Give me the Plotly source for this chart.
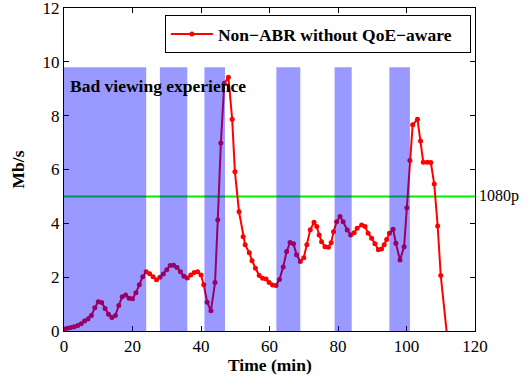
import plotly.graph_objects as go

# ---- data ----
time_min = [0, 1, 2, 3, 4, 5, 6, 7, 8, 9, 10, 11, 12, 13, 14, 15, 16, 17, 18, 19, 20,
            21, 22, 23, 24, 25, 26, 27, 28, 29, 30, 31, 32, 33, 34, 35, 36, 37, 38, 39, 40,
            40.8, 41.8, 42.9, 44.1, 44.9, 45.8, 46.8, 48.0, 49.1, 49.9, 51.1, 52.3, 52.9,
            54.1, 54.9, 55.9, 57.0, 58.0, 59.0, 59.9, 60.9, 61.9, 62.9, 64.0, 65.0, 66.0,
            67.0, 67.9, 69.0, 70.0, 70.9, 71.9, 73.0, 73.8, 74.5, 75.2, 76.2, 77.2, 78.0,
            78.7, 79.6, 80.6, 81.5, 82.7, 83.7, 84.7, 85.6, 86.9, 87.9, 88.8, 89.8, 90.8,
            91.8, 92.7, 93.5, 94.2, 95.0, 96.1, 96.9, 98.1, 99.3, 100.1, 101.0, 101.8,
            103.2, 104.1, 104.9, 106.1, 107.1, 108.1, 109.1, 110.0, 112.0]
rate_mbps = [0.07, 0.10, 0.13, 0.16, 0.20, 0.27, 0.37, 0.45, 0.58, 0.86, 1.09, 1.06, 0.84,
             0.62, 0.50, 0.58, 0.95, 1.27, 1.34, 1.22, 1.20, 1.42, 1.72, 2.02, 2.20, 2.13,
             2.02, 1.90, 2.00, 2.12, 2.28, 2.43, 2.44, 2.36, 2.20, 2.03, 1.97, 2.08, 2.17,
             2.20, 2.08, 1.72, 1.07, 0.75, 1.80, 4.13, 6.98, 9.20, 9.43, 7.87, 5.92, 4.43,
             3.50, 3.20, 2.91, 2.61, 2.33, 2.06, 1.96, 1.93, 1.80, 1.71, 1.69, 1.91, 2.38,
             2.95, 3.29, 3.24, 2.83, 2.58, 2.72, 3.20, 3.76, 4.04, 3.88, 3.57, 3.32, 3.13,
             3.11, 3.28, 3.69, 4.06, 4.25, 4.06, 3.75, 3.57, 3.65, 3.82, 3.94, 3.88, 3.63,
             3.45, 3.24, 3.02, 3.05, 3.20, 3.40, 3.63, 3.78, 3.26, 2.64, 3.13, 4.58, 6.33,
             7.66, 7.87, 7.06, 6.27, 6.27, 6.26, 5.46, 3.90, 2.06, -0.36]

# bad viewing experience periods (start, end) in minutes
bad_start = [0, 28, 41, 62, 79, 95]
bad_end = [24, 36, 47, 69, 84, 101]
bad_top = 9.8

threshold_1080p = 5
x_ticks = [0, 20, 40, 60, 80, 100, 120]
y_ticks = [0, 2, 4, 6, 8, 10, 12]

FONT = "Liberation Serif, Times New Roman, serif"
BOLD_SIZE = 17.5

fig = go.Figure()

fig.add_trace(go.Scatter(
    x=time_min, y=rate_mbps, mode="lines+markers",
    name="<b>Non\u2212ABR without QoE\u2212aware</b>\u00a0\u00a0\u00a0",
    line=dict(color="#ff0000", width=2),
    marker=dict(color="#ff0000", size=5),
))

fig.add_hline(y=threshold_1080p, line=dict(color="#00ee00", width=2), layer="below")

for s, e in zip(bad_start, bad_end):
    fig.add_shape(type="rect", xref="x", yref="y", x0=s, x1=e, y0=0, y1=bad_top,
                  fillcolor="rgba(0,0,255,0.4)", line=dict(width=0), layer="above")

fig.add_annotation(xref="x", yref="y", x=1.2, y=9.1, text="<b>Bad viewing experience</b>",
                   showarrow=False, xanchor="left", yanchor="middle",
                   font=dict(family=FONT, size=BOLD_SIZE, color="black"))
fig.add_annotation(xref="paper", yref="y", x=1.005, y=threshold_1080p, text="1080p",
                   showarrow=False, xanchor="left", yanchor="middle",
                   font=dict(family=FONT, size=16, color="black"))
# axis titles
fig.add_annotation(xref="paper", yref="paper", x=0.5, y=-0.104, text="<b>Time (min)</b>",
                   showarrow=False, xanchor="center", yanchor="middle",
                   font=dict(family=FONT, size=BOLD_SIZE, color="black"))
fig.add_annotation(xref="paper", yref="paper", x=-0.112, y=0.5, text="<b>Mb/s</b>",
                   showarrow=False, xanchor="center", yanchor="middle", textangle=-90,
                   font=dict(family=FONT, size=BOLD_SIZE, color="black"))

axis_common = dict(
    showline=True, linecolor="black", linewidth=1, mirror="ticks",
    ticks="inside", ticklen=5, tickcolor="black", showgrid=False, zeroline=False,
    tickfont=dict(family=FONT, size=17, color="black"), automargin=False,
    ticklabeloverflow="allow",
)
fig.update_xaxes(range=[0, 120], tickvals=x_ticks, **axis_common)
fig.update_yaxes(range=[0, 12], tickvals=y_ticks, **axis_common)

fig.update_layout(
    width=530, height=377, autosize=False,
    margin=dict(l=64, r=55, t=8, b=46),
    plot_bgcolor="white", paper_bgcolor="white",
    font=dict(family=FONT, color="black"),
    showlegend=True,
    legend=dict(x=0.99, y=0.978, xanchor="right", yanchor="top",
                bordercolor="black", borderwidth=1, bgcolor="white",
                font=dict(family=FONT, size=BOLD_SIZE, color="black"),
                itemwidth=42, tracegroupgap=0),
)

# remove the default 8px page margin so the figure sits at the window origin
fig.write_html("out.html", config={"displayModeBar": False},
               post_script="document.body.style.margin='0';")
